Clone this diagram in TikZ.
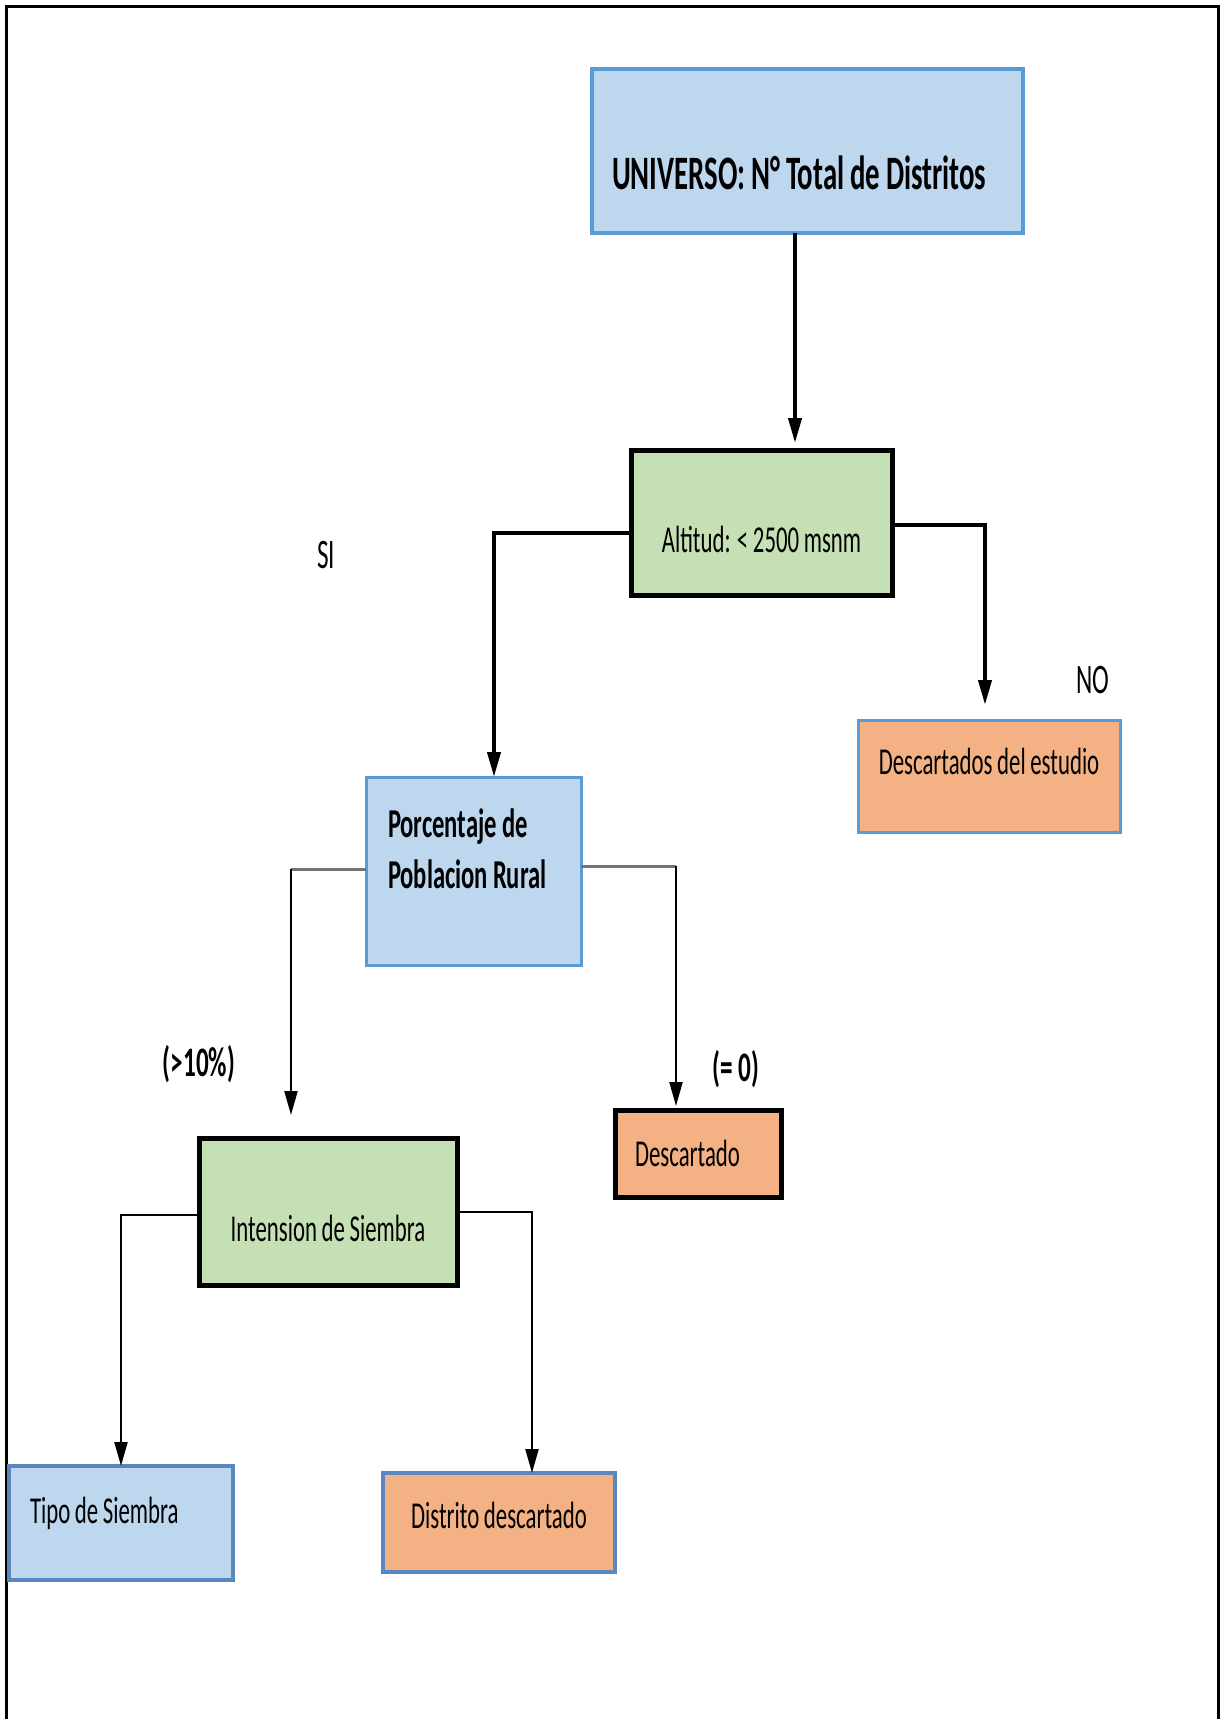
\documentclass[tikz,border=0pt]{standalone}
\usepackage{fontspec}
\setmainfont{Carlito}[FakeStretch=0.6,WordSpace=0.9]
\usepackage{tikz}
\usetikzlibrary{
  arrows.meta
}
\definecolor{edgeblue}{HTML}{5B9BD5}
\definecolor{edgesteel}{HTML}{5A87C0}
\definecolor{fillblue}{HTML}{BDD7EE}
\definecolor{fillgreen}{HTML}{C5E0B4}
\definecolor{fillorange}{HTML}{F4B183}
\colorlet{branchgray}{black!55}
\tikzset{
  flowbox/.style={line width=4pt,outer sep=0pt,inner ysep=0pt,anchor=north west},
  bluebox/.style={flowbox,draw=edgeblue,fill=fillblue},
  greenbox/.style={flowbox,draw=black,line width=5pt,fill=fillgreen},
  orangebox/.style={flowbox,draw=edgeblue,line width=3pt,fill=fillorange},
  plainfont/.style={font=\fontsize{38}{46}\selectfont},
  boldfont/.style={font=\fontsize{41}{51}\selectfont\bfseries},
  tagfont/.style={font=\fontsize{42}{50}\selectfont},
  bigarrow/.style={line width=4pt,-{Triangle[length=25pt,width=13pt]}},
  smallarrow/.style={line width=2pt,-{Triangle[length=24pt,width=13pt]}},
  grayline/.style={line width=3pt,draw=branchgray},
}

\begin{document}
\begin{tikzpicture}[x=1pt,y=-1pt]
\useasboundingbox (0,0) rectangle (1222,1719);
\draw[line width=3pt] (6,1719) -- (6,6) -- (1218,6) -- (1218,1719);

\node[bluebox,font=\fontsize{48}{56}\selectfont\bfseries,minimum width=431pt,minimum height=164pt,
  inner xsep=20pt,text width=391pt,align=flush left,text height=120pt,text depth=44pt]
  (universo) at (592,69) {UNIVERSO: N° Total de Distritos};
\node[greenbox,plainfont,minimum width=261pt,minimum height=145pt,
  inner xsep=8pt,text width=245pt,align=flush center,text height=102pt,text depth=43pt]
  (altitud) at (631,450) {Altitud: < 2500 msnm};
\node[bluebox,boldfont,line width=3pt,minimum width=215pt,minimum height=188pt,
  inner xsep=22pt,text width=171pt,align=flush left,text height=60pt,text depth=128pt]
  (porcentaje) at (366,777) {Porcentaje de\\Poblacion Rural};
\node[orangebox,plainfont,minimum width=262pt,minimum height=112pt,
  inner xsep=8pt,text width=246pt,align=flush center,text height=54pt,text depth=58pt]
  (descartados) at (858,720) {Descartados del estudio};
\node[orangebox,plainfont,draw=black,line width=5pt,minimum width=166pt,minimum height=87pt,
  inner xsep=20pt,text width=126pt,align=flush left,text height=56pt,text depth=31pt]
  (descartado) at (615,1110) {Descartado};
\node[greenbox,plainfont,minimum width=258pt,minimum height=147pt,
  inner xsep=8pt,text width=242pt,align=flush center,text height=103pt,text depth=44pt]
  (intension) at (199,1138) {Intension de Siembra};
\node[bluebox,plainfont,draw=edgesteel,minimum width=224pt,minimum height=114pt,
  inner xsep=21pt,text width=182pt,align=flush left,text height=57pt,text depth=57pt]
  (tipo) at (9,1466) {Tipo de Siembra};
\node[orangebox,plainfont,draw=edgesteel,line width=4pt,minimum width=232pt,minimum height=99pt,
  inner xsep=8pt,text width=216pt,align=flush center,text height=55pt,text depth=44pt]
  (distrito) at (383,1473) {Distrito descartado};

\node[tagfont] (si) at (326,555) {SI};
\node[tagfont] (no) at (1093,680) {NO};
\node[font=\fontsize{42}{50}\selectfont\bfseries] (mayor) at (199,1064) {(>10\%)};
\node[font=\fontsize{42}{50}\selectfont\bfseries] (cero) at (736,1069) {(= 0)};

\draw[bigarrow,shorten >=7pt] ([xshift=-12.5pt]universo.south) -- ([xshift=-12.5pt]universo.south |- altitud.north);
\draw[bigarrow] ([yshift=-10.5pt]altitud.west) -| ([xshift=20.5pt]porcentaje.north);
\draw[bigarrow,shorten >=15pt] ([yshift=-2.5pt]altitud.east) -| ([xshift=-4pt]descartados.north);

\coordinate (pleft) at ([yshift=2pt]porcentaje.west);
\coordinate (pright) at ([yshift=5pt]porcentaje.east);
\coordinate (mayorend) at (291,1115);
\coordinate (cerotop) at ([xshift=-22pt]descartado.north);
\draw[grayline] (pleft) -- (pleft -| mayorend);
\draw[smallarrow] (pleft -| mayorend) -- (mayorend);
\draw[grayline] (pright) -- (pright -| cerotop);
\draw[smallarrow,shorten >=4pt] (pright -| cerotop) -- (cerotop);

\draw[smallarrow] ([yshift=-3.5pt]intension.west) -| (tipo.north);
\draw[smallarrow] (intension.east) -| ([xshift=33pt]distrito.north);
\end{tikzpicture}
\end{document}
